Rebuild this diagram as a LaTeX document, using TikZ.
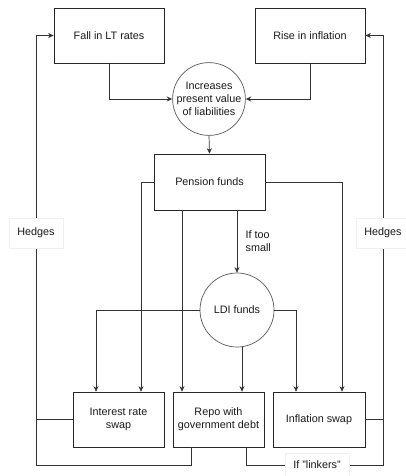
\documentclass[tikz,border=0pt]{standalone}
\usepackage{fontspec}
\setmainfont{Liberation Sans}
\usetikzlibrary{arrows.meta}

\tikzset{
    flow/.style={draw=black!80, line width=0.7pt},
    arr/.style={flow, -{Stealth[length=5.5pt,width=5pt]}},
    box/.style={draw=black!85, line width=0.7pt, rectangle, align=center, text=black!90},
    bubble/.style={draw=black!65, line width=0.7pt, circle, align=center, inner sep=0pt, text=black!90},
    tag/.style={fill=white, draw=black!6, align=left, text=black!90, inner sep=3pt},
}

\begin{document}
\begin{tikzpicture}[x=1pt, y=-1pt, font=\fontsize{10.8}{13}\selectfont]
    \useasboundingbox (0,0) rectangle (406,476);
    \def\bw{91}
    \def\bh{55}

    % top row
    \node[box, minimum width=110, minimum height=55] (fall) at (109,35.5) {Fall in LT rates};
    \node[box, minimum width=110, minimum height=55] (rise) at (310,35.5) {Rise in inflation};
    \node[bubble, minimum size=72] (pv) at (209,99) {Increases\\present value\\of liabilities};

    \node[box, minimum width=111, minimum height=56] (pension) at (209.5,182) {Pension funds};
    \node[bubble, minimum size=74] (ldi) at (237,310) {LDI funds};

    % instruments
    \node[box, minimum width=\bw, minimum height=\bh] (irs) at (118.5,419.5) {Interest rate\\swap};
    \node[box, minimum width=\bw, minimum height=\bh] (repo) at (218.5,419.5) {Repo with\\government debt};
    \node[box, minimum width=92, minimum height=\bh] (infl) at (319,419.5) {Inflation swap};

    \coordinate (irsA) at ([xshift=-22.5]irs.north);
    \coordinate (irsB) at ([xshift=22.5]irs.north);
    \coordinate (repoA) at ([xshift=-36.5]repo.north);
    \coordinate (repoB) at ([xshift=23.5]repo.north);
    \coordinate (inflA) at ([xshift=-23]infl.north);
    \coordinate (inflB) at ([xshift=23]infl.north);
    \coordinate (lbot) at (36,465);
    \coordinate (rbot) at (383,465);

    \draw[arr] (fall.south) |- (pv.west);
    \draw[arr] (rise.south) |- (pv.east);
    \draw[arr] (pv.south) -- (pension.north);

    \draw[arr] (pension.west) -| (irsB);
    \draw[arr] (pension.east) -| (inflB);
    \draw[arr] (pension.south -| repoA) -- (repoA);
    \draw[arr] (pension.south -| ldi.north) -- (ldi.north)
        node[pos=0.5, right=5pt, align=left, text=black!90] (small) {If too\\small};

    \draw[arr] (ldi.west) -| (irsA);
    \draw[arr] (ldi.east) -| (inflA);
    \draw[arr] (ldi.south -| repoB) -- (repoB);

    % hedging loops
    \draw[flow] (irs.west) -| (lbot);
    \draw[arr] ([xshift=-27.5]repo.south) |- (lbot) |- (fall.west);
    \draw[flow] (infl.east) -| (rbot);
    \draw[arr] ([xshift=27.5]repo.south) |- (rbot) |- (rise.east);

    \node[tag, minimum width=54, minimum height=30, align=center] (hedgeL) at (36,233) {Hedges};
    \node[tag, minimum width=54, minimum height=30, align=center] (hedgeR) at (383,233) {Hedges};
    \node[tag, minimum width=64, minimum height=24, align=center] (linkers) at (317,465) {If "linkers"};
\end{tikzpicture}
\end{document}
